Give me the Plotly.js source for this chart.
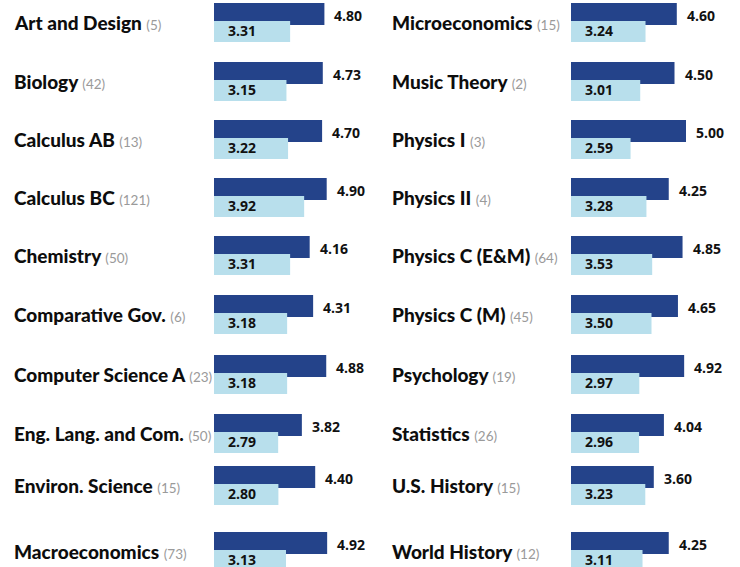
<!DOCTYPE html>
<html>
<head>
<meta charset="utf-8">
<script src="https://cdn.plot.ly/plotly-3.0.1.min.js"></script>
<style>html,body{margin:0;padding:0;background:#fff;}</style>
</head>
<body>
<div id="chart" style="width:740px;height:567px;"></div>
<script>
// ---- data ----
const leftSubjects = ["Art and Design","Biology","Calculus AB","Calculus BC","Chemistry","Comparative Gov.","Computer Science A","Eng. Lang. and Com.","Environ. Science","Macroeconomics"];
const leftCounts = [5,42,13,121,50,6,23,50,15,73];
const leftSchool = [4.80,4.73,4.70,4.90,4.16,4.31,4.88,3.82,4.40,4.92];
const leftGlobal = [3.31,3.15,3.22,3.92,3.31,3.18,3.18,2.79,2.80,3.13];

const rightSubjects = ["Microeconomics","Music Theory","Physics I","Physics II","Physics C (E&M)","Physics C (M)","Psychology","Statistics","U.S. History","World History"];
const rightCounts = [15,2,3,4,64,45,19,26,15,12];
const rightSchool = [4.60,4.50,5.00,4.25,4.85,4.65,4.92,4.04,3.60,4.25];
const rightGlobal = [3.24,3.01,2.59,3.28,3.53,3.50,2.97,2.96,3.23,3.11];

// ---- layout constants ----
const W = 740, H = 567;
const rowTops = [3,62,120,178,236,295,355,414,466,532];
const pairH = 39, darkH = 22, lightTopOff = 18;
const colBarLeft = [214,571], colLabelLeft = [12,390];
const barSpanPx = 138, axisMax = 6;
const DARK = '#24438a', LIGHT = '#b8dfec';
const LABEL_FONT = 'Lato, "Open Sans", sans-serif';
const VALUE_FONT = '"Open Sans", "Noto Sans", sans-serif';

const cols = [
  {subjects:leftSubjects, counts:leftCounts, school:leftSchool, global:leftGlobal},
  {subjects:rightSubjects, counts:rightCounts, school:rightSchool, global:rightGlobal}
];

const traces = [];
const annotations = [];
const layout = {
  width: W, height: H,
  margin: {l:0, r:0, t:0, b:0, pad:0},
  paper_bgcolor: '#ffffff',
  plot_bgcolor: 'rgba(0,0,0,0)',
  showlegend: false,
  barmode: 'overlay',
  font: {family: LABEL_FONT, color: '#111111'}
};

cols.forEach((c, ci) => {
  const xName = ci === 0 ? 'x' : 'x2';
  const xKey = ci === 0 ? 'xaxis' : 'xaxis2';
  layout[xKey] = {
    domain: [colBarLeft[ci]/W, (colBarLeft[ci]+barSpanPx)/W],
    range: [0, axisMax], visible: false, fixedrange: true
  };
  c.subjects.forEach((s, ri) => {
    const k = ci*10 + ri + 1;
    const yName = k === 1 ? 'y' : 'y' + k;
    const yKey = k === 1 ? 'yaxis' : 'yaxis' + k;
    const top = rowTops[ri], bot = top + pairH;
    const cTop = Math.max(0, top), cBot = Math.min(H, bot);
    const r0 = -0.5 + (bot - cBot)/pairH, r1 = 0.5 - (cTop - top)/pairH;
    layout[yKey] = {
      domain: [1 - cBot/H, 1 - cTop/H], range: [r0, r1],
      type: 'category', visible: false, fixedrange: true, anchor: xName
    };
    traces.push({
      type:'bar', orientation:'h', x:[c.school[ri]], y:[s],
      xaxis:xName, yaxis:yName, marker:{color:DARK, line:{width:0}},
      width: darkH/pairH, offset: 0.5 - darkH/pairH, hoverinfo:'skip'
    });
    traces.push({
      type:'bar', orientation:'h', x:[c.global[ri]], y:[s],
      xaxis:xName, yaxis:yName, marker:{color:LIGHT, line:{width:0}},
      width: (pairH - lightTopOff)/pairH, offset: -0.5, hoverinfo:'skip'
    });
    annotations.push({
      xref:'paper', x: colLabelLeft[ci]/W, xanchor:'left',
      yref: yName, y: 0, yanchor:'middle', showarrow:false,
      text: s + ' <span style="font-weight:400;color:#9a9a9a;font-size:13.5px">(' + c.counts[ri] + ')</span>',
      font: {family: LABEL_FONT, size: 19, weight: 900, color: '#0d0d0d'}
    });
    annotations.push({
      xref: xName, x: c.school[ri], xanchor:'left', xshift: 8,
      yref: yName, y: 0, yanchor:'middle', yshift: 7, showarrow:false,
      text: c.school[ri].toFixed(2),
      font: {family: VALUE_FONT, size: 14, weight: 700, color: '#111111'}
    });
    annotations.push({
      xref: xName, x: 0, xanchor:'left', xshift: 12,
      yref: yName, y: 0, yanchor:'middle', yshift: -8, showarrow:false,
      text: c.global[ri].toFixed(2),
      font: {family: VALUE_FONT, size: 14, weight: 700, color: '#111111'}
    });
  });
});
layout.annotations = annotations;

Plotly.newPlot('chart', traces, layout, {staticPlot:true, displayModeBar:false});
</script>
</body>
</html>
